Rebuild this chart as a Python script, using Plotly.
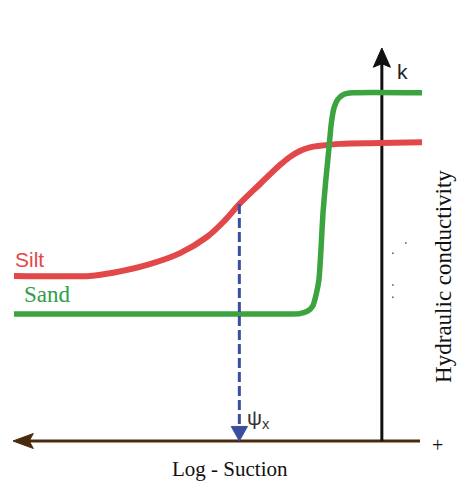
import plotly.graph_objects as go

# ---- data (arbitrary log-suction / log-k units) ----
silt_x = [0, 11.3, 18.7, 24.4, 32.8, 40.9, 47.5, 52.0, 55.5, 60.6, 65.5, 68.0, 70.4, 72.9, 75.4, 80.3, 90.1, 100.5]
silt_y = [42.0, 41.9, 42.0, 42.8, 44.8, 47.8, 51.9, 56.2, 60.3, 65.4, 70.2, 72.3, 73.8, 74.7, 75.1, 75.6, 75.8, 76.0]

sand_x = [0, 68.0, 70.4, 72.4, 73.6, 74.4, 75.1, 75.6, 76.1, 76.8, 77.6, 78.1, 78.8, 79.8, 81.3, 83.3, 100.5]
sand_y = [32.3, 32.3, 32.4, 33.1, 34.4, 37.2, 41.0, 48.6, 58.0, 66.4, 74.8, 80.4, 84.7, 87.0, 88.2, 88.6, 88.6]

psi_x = 55.5          # suction where the dashed line drops
psi_y = 60.3          # silt conductivity at psi_x
k_axis_x = 90.6       # position of the conductivity axis
k_axis_top = 100.0
suction_axis_left = -0.25
suction_axis_right = 100.0

speck_x = [96.5, 93.3, 93.3, 93.3]
speck_y = [50.4, 47.8, 39.7, 36.6]

labels = {"silt": "Silt", "sand": "Sand", "k": "k", "psi": "ψ<sub>x</sub>",
          "plus": "+", "xlabel": "Log - Suction", "ylabel": "Hydraulic conductivity"}

RED = "#e2474a"
GREEN = "#3ba43f"
BLUE = "#3b4d9e"
BROWN = "#4a2a0c"

fig = go.Figure()

# suction axis (brown) with left arrow
fig.add_trace(go.Scatter(x=[suction_axis_left + 3, suction_axis_right], y=[0, 0], mode="lines",
                         line=dict(color=BROWN, width=3), hoverinfo="skip"))
fig.add_trace(go.Scatter(x=[suction_axis_left, suction_axis_left + 5.0, suction_axis_left + 4.0,
                            suction_axis_left + 5.0, suction_axis_left],
                         y=[0, 1.9, 0, -1.9, 0], mode="lines", fill="toself",
                         fillcolor=BROWN, line=dict(color=BROWN, width=1), hoverinfo="skip"))

# conductivity axis (black) with top arrow
fig.add_trace(go.Scatter(x=[k_axis_x, k_axis_x], y=[0, k_axis_top - 3], mode="lines",
                         line=dict(color="#111111", width=3), hoverinfo="skip"))
fig.add_trace(go.Scatter(x=[k_axis_x, k_axis_x - 2.1, k_axis_x, k_axis_x + 2.1, k_axis_x],
                         y=[k_axis_top, k_axis_top - 4.9, k_axis_top - 4.0, k_axis_top - 4.9, k_axis_top],
                         mode="lines", fill="toself", fillcolor="#111111",
                         line=dict(color="#111111", width=1), hoverinfo="skip"))

# curves
fig.add_trace(go.Scatter(x=silt_x, y=silt_y, mode="lines",
                         line=dict(color=RED, width=6, shape="spline", smoothing=1.0),
                         hoverinfo="skip"))
fig.add_trace(go.Scatter(x=sand_x, y=sand_y, mode="lines",
                         line=dict(color=GREEN, width=5.5, shape="spline", smoothing=0.6),
                         hoverinfo="skip"))

# dashed drop line with arrowhead
fig.add_trace(go.Scatter(x=[psi_x, psi_x], y=[psi_y, 3.0], mode="lines",
                         line=dict(color=BLUE, width=3, dash="10px,4px"), hoverinfo="skip"))
fig.add_trace(go.Scatter(x=[psi_x - 2.0, psi_x + 2.0, psi_x, psi_x - 2.0], y=[3.7, 3.7, 0, 3.7],
                         mode="lines", fill="toself", fillcolor=BLUE, line=dict(color=BLUE, width=1),
                         hoverinfo="skip"))

# specks
fig.add_trace(go.Scatter(x=speck_x, y=speck_y, mode="markers",
                         marker=dict(color="#777777", size=2), hoverinfo="skip"))

SANS = "Liberation Sans, Arial, sans-serif"
SERIF = "Liberation Serif, Times New Roman, serif"

ann = [
    dict(x=-0.3, y=46.3, text=labels["silt"], xanchor="left", yanchor="middle",
         font=dict(family=SANS, size=21, color=RED)),
    dict(x=1.9, y=37.3, text=labels["sand"], xanchor="left", yanchor="middle",
         font=dict(family=SERIF, size=23, color="#2f9e48")),
    dict(x=93.8, y=94.0, text=labels["k"], xanchor="left", yanchor="middle",
         font=dict(family=SANS, size=21, color="#222222")),
    dict(x=57.0, y=5.6, text=labels["psi"], xanchor="left", yanchor="middle",
         font=dict(family=SANS, size=21, color="#333333")),
    dict(x=104.2, y=-0.9, text=labels["plus"], xanchor="center", yanchor="middle",
         font=dict(family=SERIF, size=20, color="#111111")),
    dict(x=53.2, y=-7.1, text=labels["xlabel"], xanchor="center", yanchor="middle",
         font=dict(family=SERIF, size=21, color="#111111")),
    dict(x=105.8, y=41.9, text=labels["ylabel"], textangle=-90, xanchor="center", yanchor="middle",
         font=dict(family=SERIF, size=23, color="#111111")),
]
for a in ann:
    a.update(xref="x", yref="y", showarrow=False)
fig.update_layout(annotations=ann)

fig.update_layout(
    width=457, height=483, margin=dict(l=0, r=0, t=0, b=0),
    paper_bgcolor="white", plot_bgcolor="white", showlegend=False,
    xaxis=dict(range=[-3.45, 109.11], visible=False, fixedrange=True),
    yaxis=dict(range=[-10.69, 112.21], visible=False, fixedrange=True),
)

fig.write_html("out.html")
